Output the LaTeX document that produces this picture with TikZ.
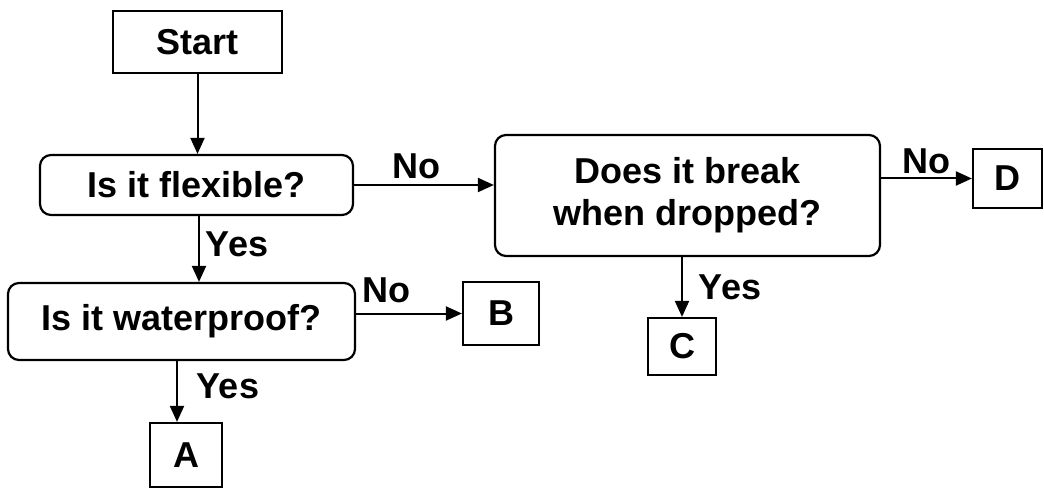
\documentclass[tikz,border=0pt]{standalone}
\usepackage{fontspec}
\setmainfont{Liberation Sans}
\usetikzlibrary{arrows.meta}
\begin{document}
\begin{tikzpicture}[x=1pt,y=-1pt,
  every node/.style={font=\fontsize{36}{42}\selectfont\bfseries, inner sep=0pt},
  sqbox/.style={draw, line width=2.2pt, align=center},
  rbox/.style={draw, line width=2.2pt, rounded corners=11pt, align=center},
  arr/.style={line width=2pt, -{Triangle[length=16pt,width=14pt]}},
  lbl/.style={}
]
\useasboundingbox (0,0) rectangle (1044,489);
\node[sqbox, minimum width=169pt, minimum height=62pt] (start) at (197.5,42) {Start};
\node[rbox, minimum width=313pt, minimum height=60pt] (flex) at (196.5,185) {Is it flexible?};
\node[rbox, minimum width=385pt, minimum height=121pt] (brk) at (687.5,195.5) {Does it break\\when dropped?};
\node[sqbox, minimum width=69pt, minimum height=59pt] (D) at (1007.5,178.5) {D};
\node[rbox, minimum width=347pt, minimum height=77pt] (wp) at (181.5,321.5) {Is it waterproof?};
\node[sqbox, minimum width=76pt, minimum height=63pt] (B) at (501,313.5) {B};
\node[sqbox, minimum width=68pt, minimum height=57pt] (C) at (682,346.5) {C};
\node[sqbox, minimum width=72pt, minimum height=64pt] (A) at (186,455) {A};

\draw[arr] (start.south) -- (start.south |- flex.north);
\draw[arr] (flex.east) -- (flex.east -| brk.west);
\draw[arr] (D.west -| brk.east) -- (D.west);
\draw[arr] (C.north |- brk.south) -- (C.north);
\draw[arr] ([xshift=2.5pt]flex.south) -- ([xshift=2.5pt]flex.south |- wp.north);
\draw[arr] (B.west -| wp.east) -- (B.west);
\draw[arr] ([xshift=-9pt]A.north |- wp.south) -- ([xshift=-9pt]A.north);

\node[lbl] (no1) at (416,166) {No};
\node[lbl] (no2) at (926,161) {No};
\node[lbl] (yes1) at (237,244) {Yes};
\node[lbl] (no3) at (386,290) {No};
\node[lbl] (yes2) at (730,287) {Yes};
\node[lbl] (yes3) at (228,386) {Yes};
\end{tikzpicture}
\end{document}
